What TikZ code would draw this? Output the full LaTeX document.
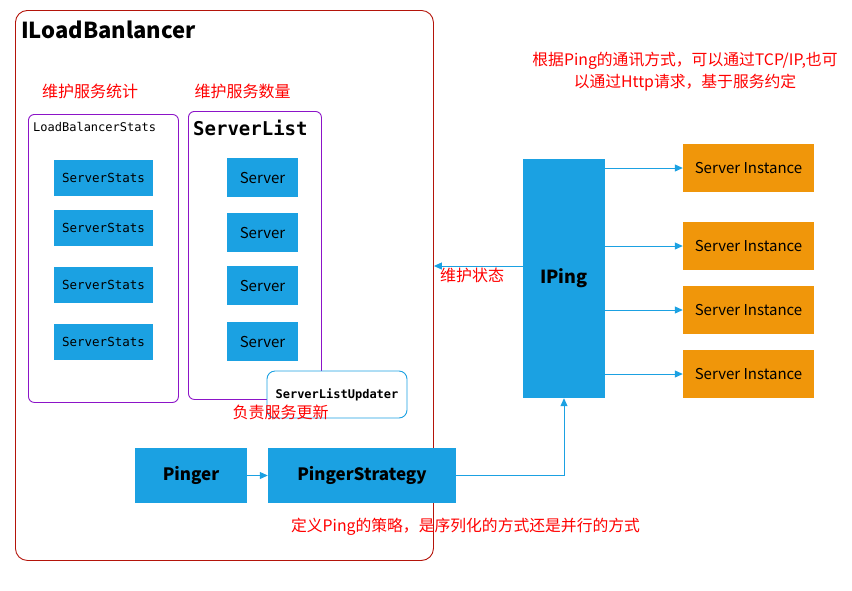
\documentclass[tikz,border=0pt]{standalone}
\usepackage{fontspec}
\setmainfont{Noto Sans CJK SC}
\setmonofont{DejaVu Sans Mono}
\usetikzlibrary{arrows.meta, positioning}
\definecolor{boxblue}{RGB}{27,161,226}
\definecolor{boxorange}{RGB}{240,150,10}
\definecolor{boxpurple}{RGB}{140,20,200}
\definecolor{lbred}{RGB}{180,20,10}
\tikzset{
  bluebox/.style = {rectangle, fill=boxblue, inner sep=0pt, align=center},
  statbox/.style = {bluebox, minimum width=99pt, minimum height=36pt, font=\ttfamily\fontsize{12.5}{14}\selectfont},
  srvbox/.style = {bluebox, minimum width=71pt, minimum height=39pt, font=\fontsize{15}{18}\selectfont},
  pingbox/.style = {bluebox, minimum height=55pt, font=\bfseries\fontsize{17}{20}\selectfont},
  instbox/.style = {rectangle, fill=boxorange, inner sep=0pt, minimum width=131pt, minimum height=48pt, font=\fontsize{15}{18}\selectfont},
  groupbox/.style = {rectangle, draw=boxpurple, rounded corners=6pt, line width=0.9pt, anchor=north west},
  note/.style = {text=red, inner sep=0pt, align=center, font=\fontsize{16}{19}\selectfont},
  line/.style = {-{Triangle[length=8pt,width=7pt]}, draw=boxblue, line width=1pt}
}
\begin{document}
\begin{tikzpicture}[x=1pt, y=-1pt]
\useasboundingbox (0,0) rectangle (852,590);

% load balancer frame
\node[rectangle, draw=lbred, rounded corners=12pt, line width=0.9pt, anchor=north west,
      minimum width=418pt, minimum height=550pt] (lb) at (15,10) {};
\node[anchor=west, inner sep=0pt, font=\bfseries\fontsize{22}{26}\selectfont] (lbtitle) at (21,30) {ILoadBanlancer};

\node[note] (statsnote) at (90,91) {维护服务统计};
\node[note] (listnote) at (242.5,91) {维护服务数量};

% stats group
\node[groupbox, minimum width=150pt, minimum height=288pt] (statsgrp) at (28,114) {};
\node[anchor=west, inner sep=0pt, font=\ttfamily\fontsize{12}{14}\selectfont] (statstitle) at (33,127) {LoadBalancerStats};
\node[statbox] (ss1) at (103.5,178) {ServerStats};
\node[statbox] (ss2) at (103.5,228) {ServerStats};
\node[statbox] (ss3) at (103.5,285) {ServerStats};
\node[statbox] (ss4) at (103.5,342) {ServerStats};

% server list group
\node[groupbox, minimum width=133pt, minimum height=288pt] (listgrp) at (188,111) {};
\node[anchor=west, inner sep=0pt, font=\ttfamily\bfseries\fontsize{19}{22}\selectfont] (listtitle) at (193,128) {ServerList};
\node[srvbox] (srv1) at (262.5,177.5) {Server};
\node[srvbox] (srv2) at (262.5,232.5) {Server};
\node[srvbox] (srv3) at (262.5,285.5) {Server};
\node[srvbox] (srv4) at (262.5,341.5) {Server};

\node[rectangle, draw=boxblue, fill=white, rounded corners=8pt, line width=0.9pt, minimum width=140pt, minimum height=47pt,
      font=\ttfamily\bfseries\fontsize{12}{14}\selectfont] (updater) at (337,394.5) {ServerListUpdater};
\node[note] (updnote) at (280.5,412) {负责服务更新};

% ping chain
\node[pingbox, minimum width=112pt] (pinger) at (191,475.5) {Pinger};
\node[pingbox, minimum width=188pt] (strategy) at (362,475.5) {PingerStrategy};
\node[note, font=\fontsize{15.8}{18}\selectfont] (stratnote) at (465.5,527) {定义Ping的策略，是序列化的方式还是并行的方式};

\node[bluebox, minimum width=82pt, minimum height=239pt, font=\bfseries\fontsize{18}{21}\selectfont] (iping) at (564,278.5) {IPing};
\node[note, font=\fontsize{15.8}{22}\selectfont] (pingnote) at (685,72) {根据Ping的通讯方式，可以通过TCP/IP,也可\\以通过Http请求，基于服务约定};

\node[instbox] (si1) at (748.5,168) {Server Instance};
\node[instbox] (si2) at (748.5,246) {Server Instance};
\node[instbox] (si3) at (748.5,310) {Server Instance};
\node[instbox] (si4) at (748.5,374) {Server Instance};

\coordinate (statefrom) at ([yshift=12.5pt]iping.west);
\node[note, anchor=north west] (statenote) at (440,268) {维护状态};

\draw[line] (pinger) -- (strategy);
\draw[line] (strategy.east) -| (iping.south);
\draw[line] (statefrom) -- (statefrom -| lb.east);
\draw[line] (iping.east |- si1) -- (si1.west);
\draw[line] (iping.east |- si2) -- (si2.west);
\draw[line] (iping.east |- si3) -- (si3.west);
\draw[line] (iping.east |- si4) -- (si4.west);
\end{tikzpicture}
\end{document}
